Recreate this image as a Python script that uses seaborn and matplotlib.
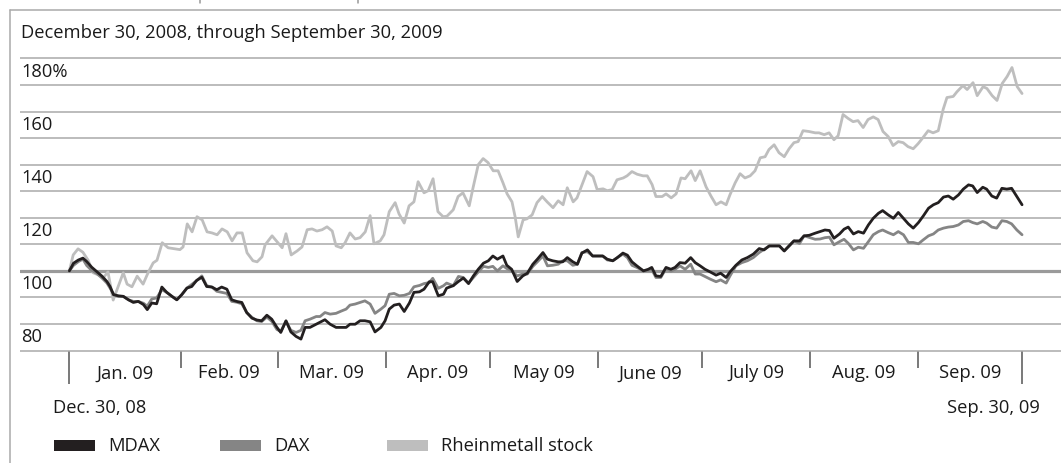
import numpy as np
import pandas as pd
import matplotlib
matplotlib.use("Agg")
import matplotlib.pyplot as plt
from matplotlib.lines import Line2D
from matplotlib.patches import Rectangle
import seaborn as sns

# Data: index level in % (Dec. 30, 2008 = 100), x = days since Dec. 30, 2008
start = pd.Timestamp("2008-12-30")

index_days = [
    0, 1.2, 2.6, 3.9, 5.0, 6.4, 7.9, 9.3, 10.8, 11.7,
    12.7, 14.1, 15.5, 17.0, 18.4, 19.8, 21.3, 22.4, 23.7, 25.1,
    26.6, 28.0, 29.5, 30.9, 32.3, 33.8, 35.2, 36.6, 38.1, 39.5,
    41.0, 42.4, 43.8, 45.3, 46.7, 48.1, 49.6, 51.0, 52.5, 53.9,
    55.3, 56.8, 58.2, 59.7, 60.8, 62.3, 63.7, 65.2, 66.6, 67.8,
    69.2, 71.0, 72.1, 73.5, 75.0, 76.7, 78.1, 79.6, 80.7, 82.2,
    83.6, 85.0, 86.5, 87.9, 89.6, 90.8, 92.0, 93.4, 94.9, 96.3,
    97.8, 99.1, 100.7, 102.0, 103.5, 104.5, 106.1, 107.6, 108.5, 110.4,
    111.9, 113.3, 114.8, 116.2, 117.6, 119.1, 120.5, 121.8, 123.1, 124.7,
    125.8, 127.2, 128.8, 130.4, 131.7, 133.3, 134.6, 136.2, 137.5, 139.0,
    140.6, 141.9, 143.2, 144.8, 146.1, 147.4, 149.0, 150.5, 151.9, 153.4,
    154.7, 156.3, 157.6, 159.2, 160.5, 161.8, 163.2, 165.1, 166.5, 167.5,
    168.7, 170.1, 171.6, 173.0, 174.2, 175.6, 177.1, 178.7, 180.0, 181.4,
    182.8, 184.3, 186.0, 187.3, 188.9, 190.0, 191.7, 193.4, 195.0, 196.7,
    198.4, 199.8, 201.3, 202.7, 204.2, 205.6, 207.1, 208.4, 210.0, 211.3,
    212.8, 214.5, 215.9, 217.3, 218.6, 219.9, 221.5, 222.8, 224.0, 225.5,
    226.9, 228.4, 229.8, 231.2, 232.7, 233.9, 235.5, 237.0, 238.4, 239.9,
    241.3, 242.7, 244.2, 245.6, 247.1, 248.5, 249.9, 251.4, 252.8, 254.2,
    255.7, 257.1, 258.6, 259.8, 261.1, 262.7, 263.8, 265.3, 266.7, 268.2,
    269.6, 271.0, 272.5, 274.0,
]

mdax = [
    100, 102.9, 104.1, 104.8, 103.5, 101.4, 99.7, 98.1, 96.0, 94.1,
    91.0, 90.6, 90.4, 89.1, 88.1, 88.5, 87.3, 85.4, 87.9, 87.6,
    93.9, 91.9, 90.4, 89.1, 91.0, 93.5, 94.1, 96.4, 97.6, 94.1,
    93.9, 92.9, 93.9, 93.1, 89.1, 88.5, 88.1, 84.3, 82.2, 81.5,
    81.2, 83.3, 81.8, 78.7, 76.8, 81.2, 77.0, 75.3, 74.3, 78.7,
    78.7, 79.9, 80.6, 81.6, 79.9, 78.7, 78.7, 78.7, 79.9, 79.9,
    81.2, 81.2, 80.8, 77.0, 78.7, 81.2, 85.6, 87.1, 87.5, 84.7,
    87.9, 91.9, 92.1, 93.1, 95.9, 95.9, 90.6, 91.2, 93.5, 94.4,
    96.0, 97.3, 95.2, 98.1, 100.6, 102.9, 103.8, 105.6, 104.4, 105.6,
    102.1, 100.6, 96.0, 98.1, 99.1, 102.5, 104.4, 106.9, 104.4, 103.8,
    103.4, 103.4, 105.0, 103.4, 102.5, 106.7, 107.9, 105.6, 105.6, 105.6,
    104.4, 103.8, 105.0, 106.7, 105.9, 103.4, 101.9, 100.0, 100.6, 101.3,
    98.1, 97.9, 101.3, 100.6, 101.3, 103.1, 102.9, 105.0, 103.1, 101.9,
    100.6, 99.6, 98.4, 99.1, 97.5, 99.6, 102.1, 104.1, 105.0, 106.3,
    108.4, 107.9, 109.4, 109.4, 109.4, 107.5, 109.6, 111.3, 111.3, 113.2,
    113.4, 114.2, 114.8, 115.4, 115.2, 112.3, 113.9, 115.7, 116.5, 113.9,
    114.8, 114.2, 117.3, 119.8, 121.7, 122.7, 121.1, 119.8, 122.0, 119.8,
    117.7, 116.1, 118.2, 120.7, 123.6, 124.9, 125.7, 127.8, 128.2, 127.0,
    128.6, 130.8, 132.4, 132.0, 129.5, 131.5, 130.8, 128.2, 127.4, 131.1,
    130.8, 131.1, 128.0, 124.9,
]

dax = [
    100, 102.1, 103.5, 104.4, 102.0, 100.2, 99.0, 97.4, 95.4, 93.5,
    91.3, 90.4, 90.4, 89.1, 88.5, 88.5, 87.8, 86.7, 89.4, 89.8,
    92.9, 91.9, 90.4, 89.1, 91.0, 93.5, 94.9, 96.3, 98.1, 94.4,
    93.9, 92.3, 91.9, 91.5, 88.5, 88.2, 87.6, 84.3, 82.5, 81.2,
    80.9, 82.6, 81.0, 77.9, 77.2, 81.0, 77.6, 76.8, 77.6, 81.2,
    81.8, 82.8, 82.8, 84.3, 83.7, 84.0, 84.8, 85.6, 87.1, 87.5,
    88.1, 88.7, 87.5, 84.0, 85.6, 86.9, 91.2, 91.5, 90.6, 90.8,
    91.5, 94.0, 94.5, 95.2, 95.6, 97.2, 93.4, 94.4, 95.4, 94.4,
    97.9, 97.5, 95.4, 97.5, 99.6, 101.7, 101.3, 101.7, 100.0, 101.9,
    100.9, 100.0, 98.1, 98.8, 98.8, 101.7, 103.4, 105.6, 101.9, 102.1,
    102.5, 103.8, 103.8, 102.1, 102.5, 106.9, 107.2, 105.6, 105.6, 105.6,
    104.1, 103.8, 105.0, 106.3, 105.0, 102.1, 101.3, 100.0, 100.1, 100.5,
    97.5, 97.5, 100.9, 99.9, 100.6, 101.9, 100.6, 102.5, 98.8, 98.8,
    97.9, 96.9, 95.9, 96.6, 95.4, 98.1, 101.9, 103.1, 103.8, 105.0,
    106.9, 108.1, 109.4, 109.4, 109.4, 107.5, 109.4, 111.3, 110.3, 113.2,
    112.6, 111.9, 112.0, 112.5, 112.7, 109.8, 111.0, 111.9, 110.4, 107.9,
    108.9, 108.5, 111.0, 113.6, 114.8, 115.4, 114.4, 113.6, 114.8, 113.6,
    110.7, 110.7, 110.2, 111.7, 113.2, 113.9, 115.4, 116.1, 116.5, 116.7,
    117.3, 118.6, 118.9, 118.2, 117.7, 118.6, 118.0, 116.5, 116.1, 118.9,
    118.6, 117.7, 115.4, 113.6,
]

rheinmetall_days = [
    0, 1.1, 2.5, 3.9, 5.4, 6.8, 8.3, 9.7, 11.1, 12.6,
    14.0, 15.5, 16.6, 18.0, 19.5, 21.2, 22.6, 24.1, 25.2, 26.7,
    28.4, 30.4, 31.8, 32.7, 33.9, 35.3, 36.7, 38.2, 39.6, 41.0,
    42.5, 43.9, 45.4, 46.8, 48.2, 49.7, 51.1, 52.8, 54.0, 55.4,
    56.3, 58.3, 59.7, 61.2, 62.3, 63.8, 65.5, 66.9, 68.4, 69.8,
    71.2, 72.7, 74.1, 75.6, 76.7, 78.2, 79.3, 80.7, 82.2, 83.6,
    85.1, 86.5, 87.6, 89.4, 90.5, 92.0, 93.7, 94.8, 96.3, 97.7,
    99.1, 100.3, 102.0, 103.2, 104.6, 106.0, 107.5, 108.6, 110.4, 111.8,
    113.2, 115.0, 116.1, 117.6, 119.0, 120.4, 121.9, 123.3, 124.7, 125.9,
    127.3, 128.2, 129.1, 130.5, 131.6, 133.1, 134.5, 136.0, 137.4, 139.1,
    140.6, 142.0, 143.2, 144.9, 146.0, 147.8, 148.9, 150.6, 151.8, 153.5,
    154.7, 156.1, 157.5, 159.3, 160.4, 161.8, 163.3, 165.0, 166.2, 167.6,
    168.7, 170.5, 171.6, 173.1, 174.5, 175.9, 177.1, 178.8, 180.0, 181.4,
    183.1, 184.6, 186.0, 187.4, 188.9, 190.0, 191.5, 192.9, 194.3, 195.8,
    197.2, 198.7, 200.1, 201.2, 202.7, 204.1, 205.6, 207.0, 208.4, 209.6,
    211.0, 212.7, 214.5, 215.6, 217.1, 218.5, 219.9, 221.1, 222.5, 224.0,
    225.4, 226.8, 228.3, 229.7, 231.2, 232.6, 234.0, 235.5, 236.9, 238.4,
    239.8, 241.2, 242.7, 244.1, 245.5, 247.0, 248.4, 249.9, 251.3, 252.4,
    254.2, 255.3, 257.0, 258.2, 259.9, 261.1, 262.8, 263.9, 265.4, 266.8,
    268.3, 269.7, 271.1, 272.6, 274.0,
]

rheinmetall = [
    100, 106.0, 108.3, 107.0, 104.0, 99.3, 98.5, 97.3, 99.6, 89.0,
    94.0, 99.3, 95.0, 94.0, 98.0, 95.0, 99.2, 103.0, 104.0, 110.6,
    108.7, 108.3, 108.0, 109.0, 117.7, 114.7, 120.4, 119.2, 114.7, 114.3,
    113.6, 115.8, 114.7, 111.3, 114.3, 114.3, 106.8, 103.8, 103.4, 105.3,
    109.8, 113.2, 111.0, 108.7, 114.0, 106.0, 107.5, 109.0, 115.5, 115.8,
    115.0, 115.5, 116.6, 115.0, 109.4, 108.7, 110.6, 114.3, 112.0, 112.5,
    114.7, 120.8, 110.2, 111.3, 113.6, 122.3, 125.7, 121.5, 118.0, 124.5,
    126.0, 133.6, 129.4, 130.2, 134.7, 122.3, 120.4, 120.6, 123.0, 128.0,
    129.4, 124.5, 131.3, 140.0, 142.3, 140.8, 137.7, 137.7, 133.2, 129.0,
    126.0, 120.4, 112.8, 119.2, 119.6, 121.1, 125.7, 128.0, 126.0, 123.8,
    126.4, 124.9, 131.3, 126.0, 127.5, 133.6, 137.4, 135.5, 130.6, 130.9,
    130.2, 130.6, 134.3, 135.0, 135.8, 137.4, 136.4, 135.8, 135.8, 132.5,
    128.0, 128.0, 129.0, 127.5, 129.0, 135.0, 134.7, 137.7, 134.0, 137.7,
    131.7, 128.0, 124.9, 126.0, 124.9, 128.7, 133.2, 136.6, 135.0, 135.8,
    137.7, 142.6, 143.0, 145.7, 147.5, 144.5, 143.0, 146.0, 148.3, 148.7,
    152.8, 152.5, 152.0, 152.0, 151.3, 152.0, 149.4, 150.9, 158.9, 157.4,
    156.2, 156.6, 154.0, 157.0, 158.0, 157.0, 152.5, 150.6, 147.2, 148.7,
    148.3, 146.8, 146.0, 147.9, 150.2, 152.8, 152.0, 152.8, 160.8, 165.3,
    165.7, 167.5, 169.8, 168.3, 170.9, 166.0, 169.4, 168.7, 166.0, 164.2,
    170.6, 173.2, 176.6, 169.4, 166.8,
]

series_names = ["MDAX", "DAX", "Rheinmetall stock"]
series_colors = ["#231f20", "#858585", "#bebebe"]
y_ticks = [70, 80, 90, 100, 110, 120, 130, 140, 150, 160, 170, 180]
y_labels = {180: "180%", 160: "160", 140: "140", 120: "120", 100: "100", 80: "80"}
month_labels = ["Jan. 09", "Feb. 09", "Mar. 09", "Apr. 09", "May 09",
                "June 09", "July 09", "Aug. 09", "Sep. 09"]
title = "December 30, 2008, through September 30, 2009"

assert len(index_days) == len(mdax) == len(dax)
assert len(rheinmetall_days) == len(rheinmetall)

# long-form table for seaborn
def to_dates(days):
    return start + pd.to_timedelta(np.array(days), unit="D")

df = pd.concat([
    pd.DataFrame({"date": to_dates(rheinmetall_days), "value": rheinmetall, "series": "Rheinmetall stock"}),
    pd.DataFrame({"date": to_dates(index_days), "value": dax, "series": "DAX"}),
    pd.DataFrame({"date": to_dates(index_days), "value": mdax, "series": "MDAX"}),
], ignore_index=True)

sns.set_style("white")
plt.rcParams["font.family"] = ["Open Sans", "DejaVu Sans"]
FS = 13.2
TXT = "#1a1a1a"

W, H = 1061, 464
fig = plt.figure(figsize=(W / 100, H / 100), dpi=100)

def fx(px):
    return px / W

def fy(py):
    return 1 - py / H

# 10 units on the y axis are 26.55 px; 180 sits at y=59.5 px
unit = 2.655
ax = fig.add_axes([fx(20), fy(351.5 + unit), fx(1061) - fx(20), (292 + 2 * unit) / H])

palette = dict(zip(series_names, series_colors))
sns.lineplot(data=df, x="date", y="value", hue="series",
             hue_order=["Rheinmetall stock", "DAX", "MDAX"], palette=palette,
             estimator=None, sort=False, linewidth=2.0, legend=False, ax=ax, zorder=3)

ax.set_ylim(69, 181)
ax.set_xlim(start - pd.Timedelta(days=14.2), start + pd.Timedelta(days=285.2))
ax.set_yticks(y_ticks)
ax.yaxis.grid(True, color="#a9a9a9", linewidth=1.1)
ax.xaxis.grid(False)
ax.set_axisbelow(True)
ax.axhline(100, color="#9a9a9a", linewidth=2.3, zorder=2)
ax.tick_params(axis="y", left=False, labelleft=False)
for s in ax.spines.values():
    s.set_visible(False)
ax.set_xlabel("")
ax.set_ylabel("")

# y labels sit just under their grid line
for v, lab in y_labels.items():
    ax.text(0.001, v - 4.7, lab, transform=ax.get_yaxis_transform(),
            ha="left", va="center", fontsize=FS, color=TXT)

# month-end ticks hang from the 70 line; the two end dates get long ticks
ax.spines["bottom"].set_position(("data", 70))
month_ends = pd.date_range("2009-01-31", "2009-08-31", freq="ME")
end_dates = [start, pd.Timestamp("2009-09-30")]
ax.set_xticks(month_ends)
ax.set_xticks(end_dates, minor=True)
ax.tick_params(axis="x", which="major", direction="out", length=12, width=1.1,
               color="#555555", labelbottom=False, bottom=True)
ax.tick_params(axis="x", which="minor", direction="out", length=23.5, width=1.1,
               color="#555555", labelbottom=False, bottom=True)

bounds = [start] + list(month_ends) + [pd.Timestamp("2009-09-30")]
for i, lab in enumerate(month_labels):
    mid = bounds[i] + (bounds[i + 1] - bounds[i]) / 2
    ax.text(mid, 70 - 22 / unit, lab, ha="center", va="center",
            fontsize=FS, color=TXT, clip_on=False)

fig.text(fx(53), fy(408), "Dec. 30, 08", ha="left", va="center", fontsize=FS, color=TXT)
fig.text(fx(1040), fy(408), "Sep. 30, 09", ha="right", va="center", fontsize=FS, color=TXT)

# title and frame
fig.text(fx(21), fy(33), title, ha="left", va="center", fontsize=FS, color=TXT)
fig.add_artist(Line2D([fx(9.5), 1], [fy(10.8), fy(10.8)], color="#aaaaaa", lw=1.1))
fig.add_artist(Line2D([fx(9.5), fx(9.5)], [fy(10.8), 0], color="#aaaaaa", lw=1.1))
for px in [199.5, 357.5]:
    fig.add_artist(Line2D([fx(px), fx(px)], [1, fy(3.5)], color="#999999", lw=1.1))

# legend
legend_x = [54, 220, 387]
for name, color, x0 in zip(series_names, series_colors, legend_x):
    fig.add_artist(Rectangle((fx(x0), fy(452)), fx(41), 11 / H,
                             facecolor=color, edgecolor="none"))
    fig.text(fx(x0 + 54), fy(446.5), name, ha="left", va="center",
             fontsize=FS, color=TXT)

fig.savefig("out.png", dpi=100)
